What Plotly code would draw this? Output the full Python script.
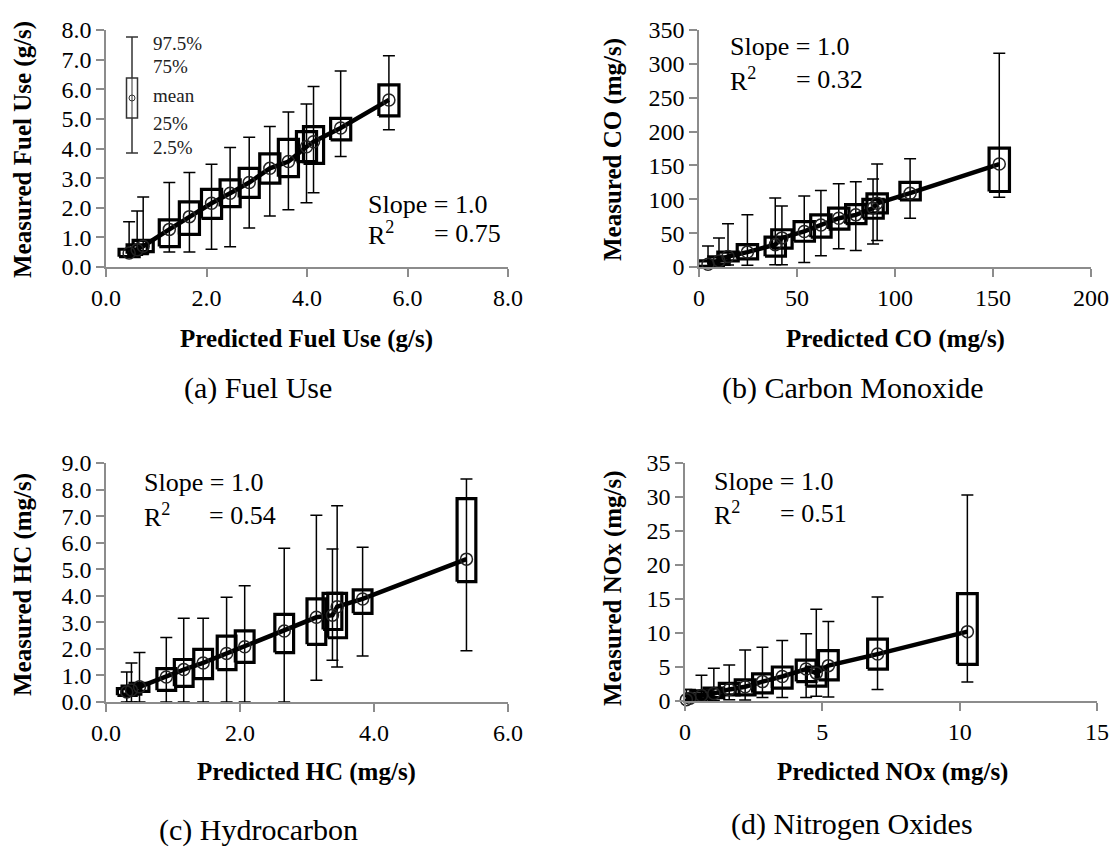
import plotly.graph_objects as go

W, H = 1115, 849

# ---------------- data ----------------
# (a) Fuel Use (g/s)
fuel_pred = [0.46, 0.62, 0.74, 1.26, 1.66, 2.10, 2.47, 2.85, 3.26, 3.63, 3.99, 4.13, 4.67, 5.63]
fuel_mean = [0.47, 0.58, 0.70, 1.27, 1.70, 2.15, 2.49, 2.85, 3.33, 3.56, 4.06, 4.23, 4.69, 5.64]
fuel_q75 = [0.60, 0.75, 0.90, 1.59, 2.20, 2.62, 2.94, 3.33, 3.82, 4.31, 4.57, 4.74, 5.02, 6.15]
fuel_q25 = [0.35, 0.45, 0.52, 0.69, 1.10, 1.64, 2.04, 2.35, 2.83, 3.05, 3.56, 3.50, 4.29, 5.10]
fuel_p975 = [1.53, 1.89, 2.36, 2.85, 3.19, 3.47, 4.03, 4.38, 4.74, 5.23, 5.50, 6.09, 6.62, 7.13]
fuel_p025 = [0.35, 0.40, 0.45, 0.51, 0.51, 0.60, 0.68, 1.32, 1.72, 1.93, 2.17, 2.51, 3.73, 4.63]

# (b) Carbon Monoxide (mg/s)
co_pred = [4.6, 10.2, 14.8, 24.7, 38.9, 42.3, 53.7, 62.2, 71.3, 80.0, 88.8, 90.9, 107.7, 153.2]
co_mean = [4, 9, 15.6, 22, 33, 43, 52.5, 62, 72, 77, 87, 94, 109, 152]
co_q75 = [9, 15, 22, 33, 44, 55, 67, 77, 87, 92, 100, 108, 125, 175.5]
co_q25 = [1, 4, 9, 12, 16, 28, 38, 44, 56, 64, 72, 80, 99, 111.5]
co_p975 = [31, 43, 64, 77, 102, 90, 105, 113, 123, 126, 130, 152, 160, 315.6]
co_p025 = [0.5, 1, 3, 2.5, 3.4, 3.4, 6.8, 16.7, 27, 24.5, 34, 39, 72, 103]

# (c) Hydrocarbon (mg/s)
hc_pred = [0.31, 0.38, 0.50, 0.90, 1.16, 1.45, 1.80, 2.07, 2.66, 3.14, 3.38, 3.45, 3.83, 5.38]
hc_mean = [0.38, 0.45, 0.57, 0.94, 1.22, 1.47, 1.83, 2.08, 2.67, 3.19, 3.27, 3.59, 3.88, 5.38]
hc_q75 = [0.50, 0.60, 0.70, 1.26, 1.60, 1.98, 2.48, 2.68, 3.30, 3.88, 4.09, 4.09, 4.22, 7.66]
hc_q25 = [0.25, 0.30, 0.40, 0.44, 0.59, 0.88, 1.22, 1.49, 1.86, 2.17, 2.73, 2.42, 3.34, 4.53]
hc_p975 = [1.13, 1.47, 1.86, 2.43, 3.15, 3.15, 3.94, 4.38, 5.79, 7.03, 5.76, 7.39, 5.83, 8.40]
hc_p025 = [0, 0, 0, 0, 0, 0, 0, 0, 0, 0.82, 1.57, 1.32, 1.73, 1.93]

# (d) Nitrogen Oxides (mg/s)
nox_pred = [0.05, 0.18, 0.6, 1.05, 1.61, 2.19, 2.82, 3.54, 4.41, 4.78, 5.22, 7.01, 10.28]
nox_mean = [0.2, 0.4, 0.8, 1.1, 1.7, 2.1, 2.85, 3.6, 4.7, 4.1, 5.2, 6.9, 10.2]
nox_q75 = [0.8, 1.0, 1.5, 1.9, 2.6, 3.1, 4.0, 5.0, 6.0, 5.0, 7.4, 9.1, 15.8]
nox_q25 = [0.0, 0.1, 0.3, 0.5, 0.9, 0.9, 1.2, 1.9, 2.85, 2.2, 3.1, 4.7, 5.4]
nox_p975 = [1.7, 1.7, 3.8, 4.8, 5.3, 7.5, 7.9, 8.9, 9.9, 13.5, 11.7, 15.3, 30.3]
nox_p025 = [0, 0, 0.1, 0.1, 0.2, 0.15, 0.5, 0.5, 0.5, 0.7, 0.6, 1.7, 2.8]

x_titles = ["Predicted Fuel Use (g/s)", "Predicted CO (mg/s)", "Predicted HC (mg/s)", "Predicted NOx (mg/s)"]
y_titles = ["Measured Fuel Use (g/s)", "Measured CO (mg/s)", "Measured HC (mg/s)", "Measured NOx (mg/s)"]
captions = ["(a) Fuel Use", "(b) Carbon Monoxide", "(c) Hydrocarbon", "(d) Nitrogen Oxides"]
slopes = ["Slope = 1.0"] * 4
r2_vals = ["= 0.75", "= 0.32", "= 0.54", "= 0.51"]
legend_labels = ["97.5%", "75%", "mean", "25%", "2.5%"]

# ---------------- styling / layout ----------------
FONT = "Liberation Serif"
AX_COL = "#8c8c8c"

def fx(p):
    return p / W

def fy(p):
    return 1 - p / H

panels = [
    dict(data=(fuel_pred, fuel_mean, fuel_q25, fuel_q75, fuel_p025, fuel_p975),
         xr=[0, 8], xd=2, yr=[0, 8], yd=1, fmt=".1f", hw=0.2,
         dom_x=[106, 508], dom_y=[30, 267],
         xt=(307, 339), yt=(23, 150), cap=(258, 388),
         slope=(366, 205), r2=(366, 234), r2v=(432, 234)),
    dict(data=(co_pred, co_mean, co_q25, co_q75, co_p025, co_p975),
         xr=[0, 200], xd=50, yr=[0, 350], yd=50, fmt="d", hw=5.2,
         dom_x=[699, 1091], dom_y=[30, 267],
         xt=(895, 339), yt=(613, 150), cap=(853, 388),
         slope=(728, 46), r2=(728, 79), r2v=(794, 79)),
    dict(data=(hc_pred, hc_mean, hc_q25, hc_q75, hc_p025, hc_p975),
         xr=[0, 6], xd=2, yr=[0, 9], yd=1, fmt=".1f", hw=0.14,
         dom_x=[106, 508], dom_y=[463, 702],
         xt=(306, 772), yt=(23, 585), cap=(258, 830),
         slope=(142, 482), r2=(142, 515), r2v=(207, 515)),
    dict(data=(nox_pred, nox_mean, nox_q25, nox_q75, nox_p025, nox_p975),
         xr=[0, 15], xd=5, yr=[0, 35], yd=5, fmt="d", hw=0.36,
         dom_x=[685, 1097], dom_y=[463, 701],
         xt=(892, 772), yt=(613, 588), cap=(852, 824),
         slope=(712, 481), r2=(712, 513), r2v=(778, 513)),
]

fig = go.Figure()
annotations = []
shapes = []
layout = {}

for i, p in enumerate(panels):
    n = "" if i == 0 else str(i + 1)
    xa, ya = "x" + n, "y" + n
    pred, mean, q25, q75, p025, p975 = p["data"]
    hw = p["hw"]

    # thick mean line
    order = sorted(range(len(pred)), key=lambda k: pred[k])
    fig.add_trace(go.Scatter(
        x=[pred[k] for k in order], y=[mean[k] for k in order],
        mode="lines", line=dict(color="black", width=4.5),
        xaxis=xa, yaxis=ya, showlegend=False, hoverinfo="skip"))

    # interquartile boxes
    bx, by = [], []
    for xv, lo, hi in zip(pred, q25, q75):
        bx += [xv - hw, xv + hw, xv + hw, xv - hw, xv - hw, None]
        by += [lo, lo, hi, hi, lo, None]
    fig.add_trace(go.Scatter(
        x=bx, y=by, mode="lines", line=dict(color="black", width=3.2),
        xaxis=xa, yaxis=ya, showlegend=False, hoverinfo="skip"))

    # means with 2.5% / 97.5% whiskers
    fig.add_trace(go.Scatter(
        x=pred, y=mean, mode="markers",
        marker=dict(symbol="circle-open", size=12, color="#222",
                    line=dict(width=1.5, color="#222")),
        error_y=dict(type="data", symmetric=False,
                     array=[h - m for h, m in zip(p975, mean)],
                     arrayminus=[m - l for m, l in zip(mean, p025)],
                     color="black", thickness=1.5, width=6),
        xaxis=xa, yaxis=ya, showlegend=False, cliponaxis=False))

    axis_common = dict(showgrid=False, zeroline=False, showline=True,
                       linecolor=AX_COL, linewidth=1.5, ticks="outside",
                       ticklen=8, tickcolor=AX_COL, tickwidth=1.5,
                       tickfont=dict(family=FONT, size=24, color="black"),
                       automargin=False)
    layout["xaxis" + n] = dict(axis_common, range=p["xr"], dtick=p["xd"], tick0=0,
                               tickformat=p["fmt"] if p["fmt"] != "d" else "d",
                               domain=[fx(p["dom_x"][0]), fx(p["dom_x"][1])],
                               anchor=ya)
    layout["yaxis" + n] = dict(axis_common, range=p["yr"], dtick=p["yd"], tick0=0,
                               tickformat=p["fmt"] if p["fmt"] != "d" else "d",
                               domain=[fy(p["dom_y"][1]), fy(p["dom_y"][0])],
                               anchor=xa)

    annotations.append(dict(text="<b>%s</b>" % x_titles[i], x=fx(p["xt"][0]), y=fy(p["xt"][1]),
                            xref="paper", yref="paper", showarrow=False,
                            xanchor="center", yanchor="middle",
                            font=dict(family=FONT, size=25, color="black")))
    annotations.append(dict(text="<b>%s</b>" % y_titles[i], x=fx(p["yt"][0]), y=fy(p["yt"][1]),
                            xref="paper", yref="paper", showarrow=False, textangle=-90,
                            xanchor="center", yanchor="middle",
                            font=dict(family=FONT, size=25, color="black")))
    annotations.append(dict(text=captions[i], x=fx(p["cap"][0]), y=fy(p["cap"][1]),
                            xref="paper", yref="paper", showarrow=False,
                            xanchor="center", yanchor="middle",
                            font=dict(family=FONT, size=30, color="black")))
    annotations.append(dict(text=slopes[i], x=fx(p["slope"][0]), y=fy(p["slope"][1]),
                            xref="paper", yref="paper", showarrow=False,
                            xanchor="left", yanchor="middle",
                            font=dict(family=FONT, size=26, color="black")))
    annotations.append(dict(text="R<sup>2</sup>", x=fx(p["r2"][0]), y=fy(p["r2"][1]),
                            xref="paper", yref="paper", showarrow=False,
                            xanchor="left", yanchor="middle",
                            font=dict(family=FONT, size=26, color="black")))
    annotations.append(dict(text=r2_vals[i], x=fx(p["r2v"][0]), y=fy(p["r2v"][1]),
                            xref="paper", yref="paper", showarrow=False,
                            xanchor="left", yanchor="middle",
                            font=dict(family=FONT, size=26, color="black")))

# ---- legend key inset in panel (a) ----
LX = 132
shapes.append(dict(type="line", xref="paper", yref="paper",
                   x0=fx(LX), x1=fx(LX), y0=fy(37), y1=fy(153),
                   line=dict(color="#333", width=1.5)))
for yy in (37, 153):
    shapes.append(dict(type="line", xref="paper", yref="paper",
                       x0=fx(LX - 6), x1=fx(LX + 6), y0=fy(yy), y1=fy(yy),
                       line=dict(color="#333", width=1.5)))
shapes.append(dict(type="rect", xref="paper", yref="paper",
                   x0=fx(LX - 5.5), x1=fx(LX + 5.5), y0=fy(118), y1=fy(78),
                   line=dict(color="#333", width=1.5), fillcolor="white"))
shapes.append(dict(type="line", xref="paper", yref="paper",
                   x0=fx(LX), x1=fx(LX), y0=fy(78), y1=fy(118),
                   line=dict(color="#333", width=1)))
shapes.append(dict(type="circle", xref="paper", yref="paper",
                   x0=fx(LX - 3), x1=fx(LX + 3), y0=fy(101), y1=fy(95),
                   line=dict(color="#333", width=1)))
for lbl, yy in zip(legend_labels, [43, 66, 95, 123, 147]):
    annotations.append(dict(text=lbl, x=fx(151), y=fy(yy), xref="paper", yref="paper",
                            showarrow=False, xanchor="left", yanchor="middle",
                            font=dict(family=FONT, size=19, color="#222")))

fig.update_layout(**layout)
fig.update_layout(width=W, height=H, margin=dict(l=0, r=0, t=0, b=0),
                  template="none", paper_bgcolor="white", plot_bgcolor="white",
                  showlegend=False, annotations=annotations, shapes=shapes)

fig.write_html("out.html")
